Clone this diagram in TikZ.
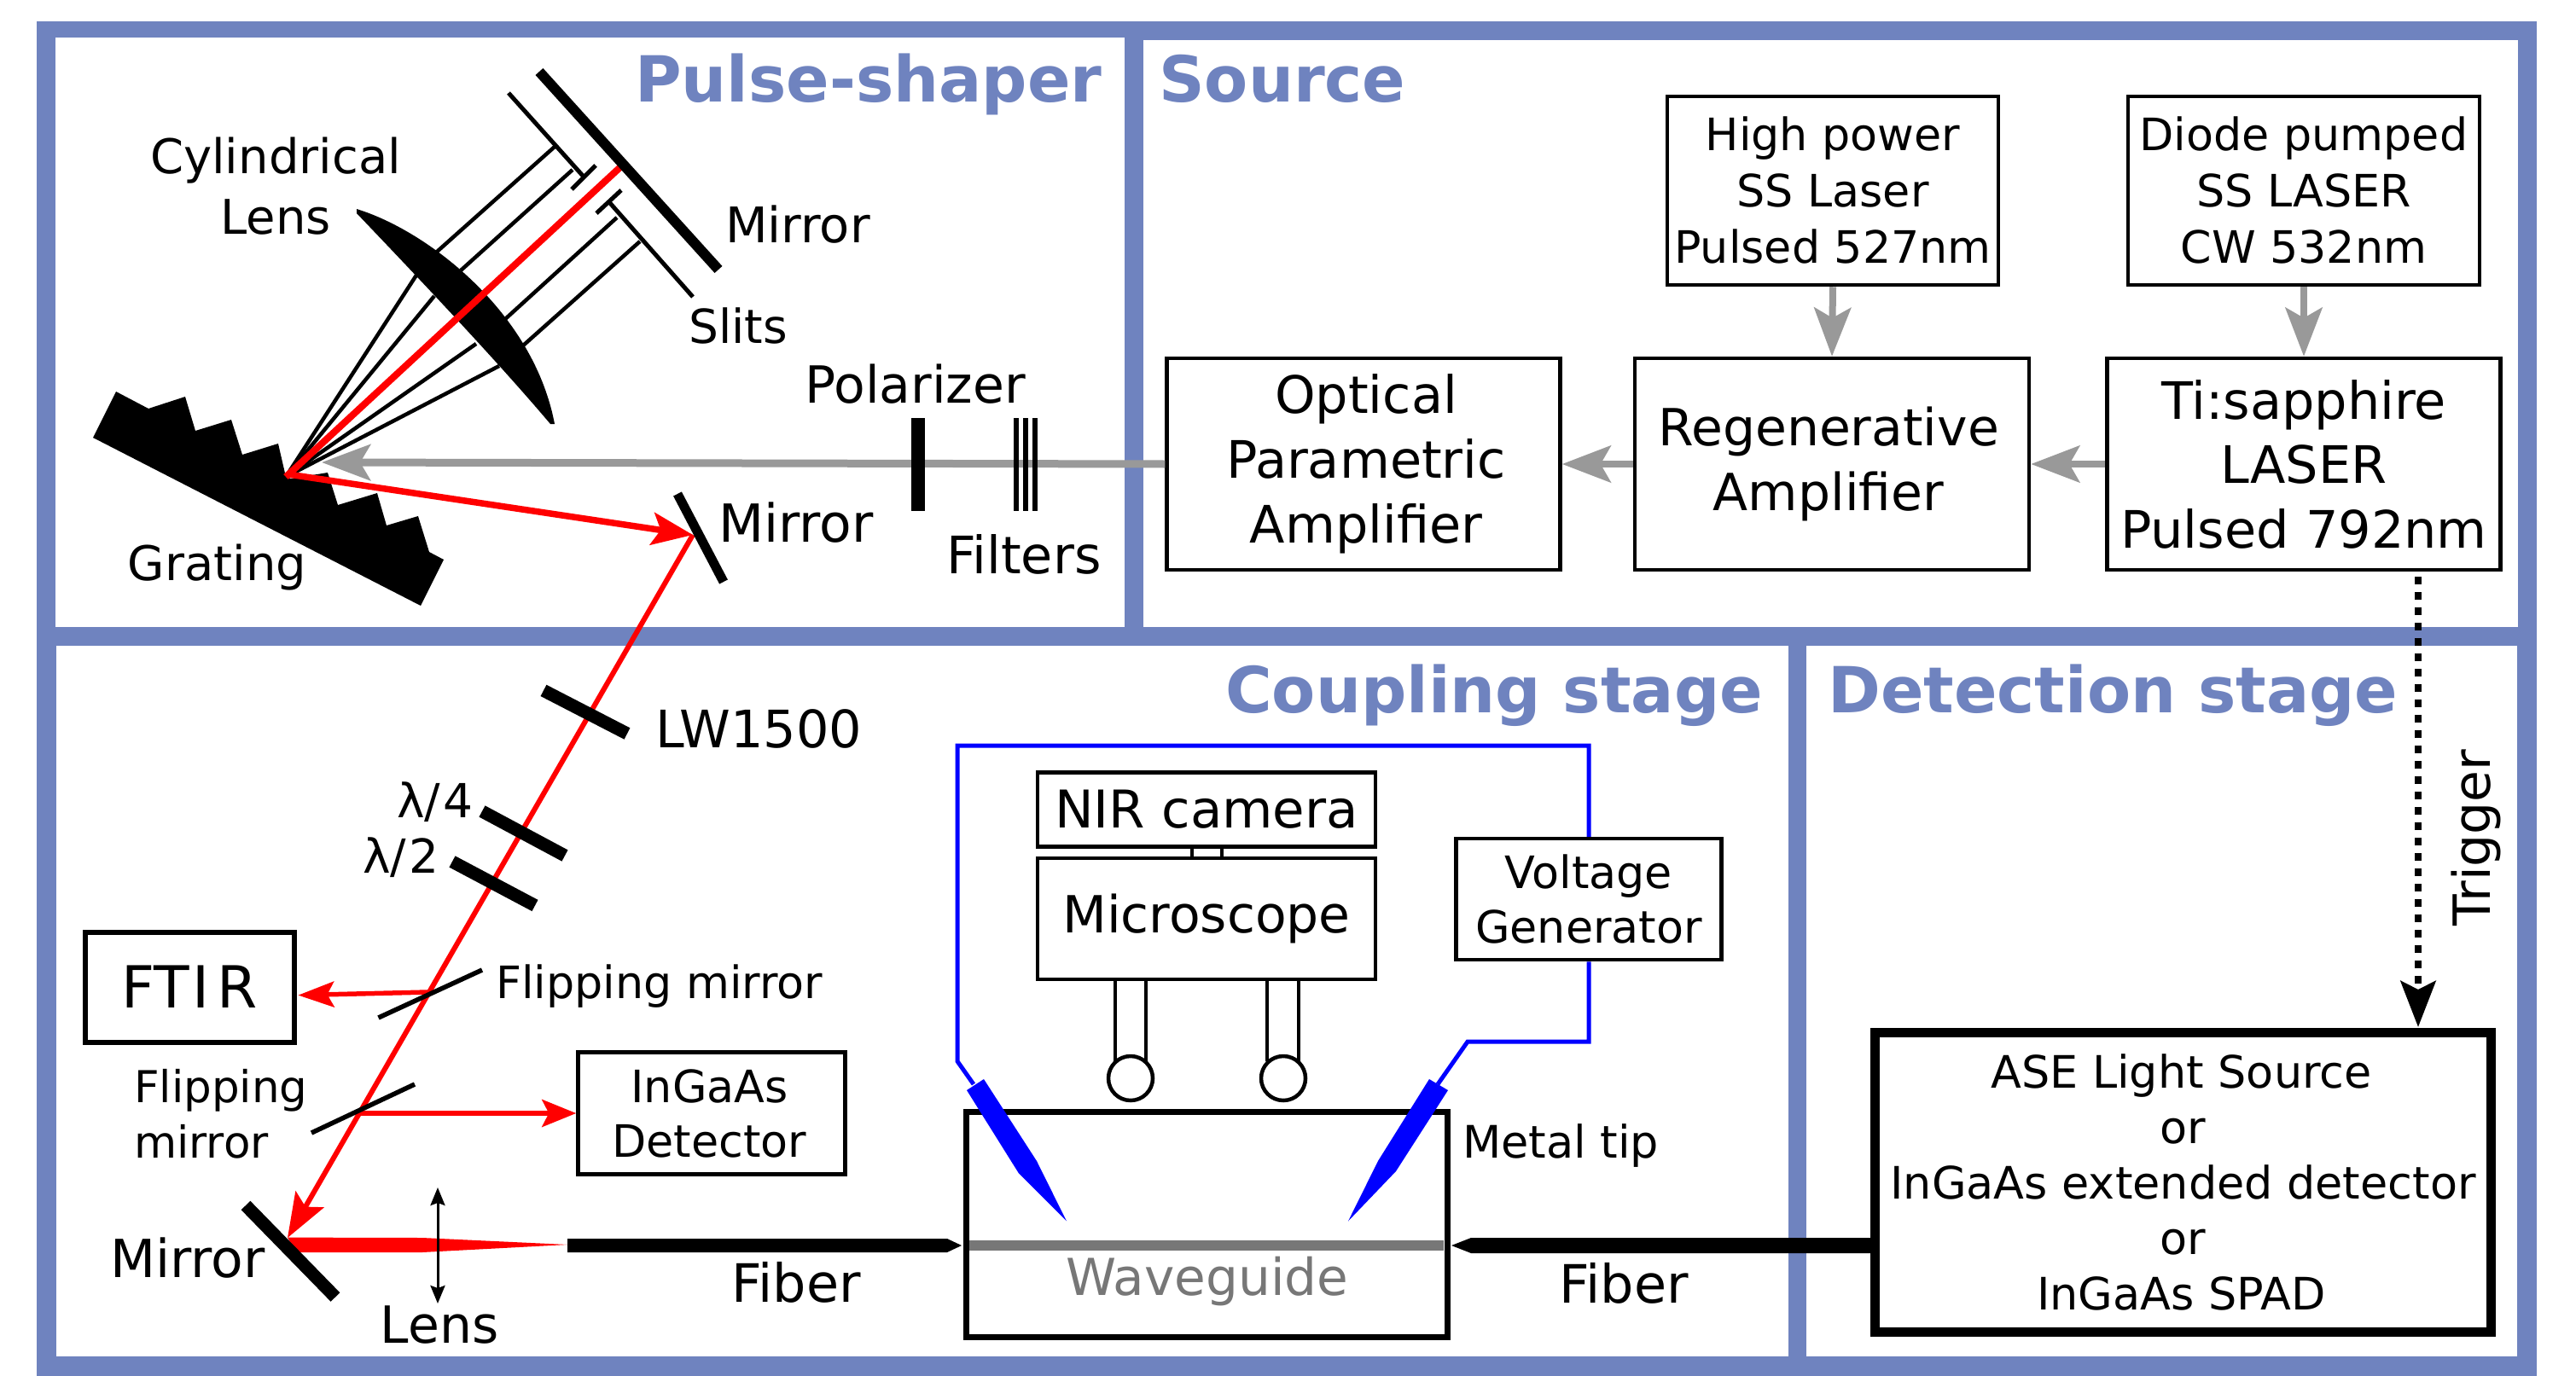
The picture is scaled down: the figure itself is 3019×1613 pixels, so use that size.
\documentclass[tikz,border=0pt]{standalone}
\usepackage{fontspec}
\setmainfont{DejaVu Sans}
\usetikzlibrary{arrows.meta,calc}
\definecolor{band}{HTML}{6F83BF}
\definecolor{beam}{HTML}{999999}
\definecolor{guide}{HTML}{777777}
\newcommand{\fsz}[2]{\fontsize{#1}{#2}\selectfont}
\tikzset{
  panel/.style={fill=white,draw=none},
  title/.style={text=band,anchor=base west,inner sep=0pt,font=\bfseries\fsz{74.5}{89}},
  lbl/.style={anchor=base,inner sep=0pt,text=black},
  bx/.style={draw=black,fill=white,line width=4.5pt,inner sep=0pt,align=center},
  grayarr/.style={draw=beam,line width=8pt,-{Stealth[length=57pt,width=43pt,inset=12pt]}},
  redline/.style={draw=red,line width=6pt},
  rayk/.style={draw=black,line width=4.5pt},
  slit/.style={draw=black,line width=5pt},
  optic/.style={draw=black,line width=15pt},
  thinm/.style={draw=black,line width=5.5pt},
  wire/.style={draw=blue,line width=5pt},
}
\begin{document}
\begin{tikzpicture}[x=1pt,y=-1pt]
\useasboundingbox (0,0) rectangle (3019,1613);
\fill[white] (0,0) rectangle (3019,1613);
% frame and panels
\fill[band] (43,25) rectangle (2973,1613);
\fill[panel] (65,44) rectangle (1318,735);
\fill[panel] (1340,47) rectangle (2951,735);
\fill[panel] (66,757) rectangle (2096,1590);
\fill[panel] (2117,757) rectangle (2950,1590);
\node[title] (tps) at (744,120) {Pulse-shaper};
\node[title] (tsrc) at (1358,120) {Source};
\node[title] (tcpl) at (1436,835) {Coupling stage};
\node[title] (tdet) at (2142,835) {Detection stage};

% source boxes
\node[bx,font=\fsz{52.3}{66},minimum width=388pt,minimum height=221pt] (high) at (2148,223.5) {High power\\SS Laser\\Pulsed 527nm};
\node[bx,font=\fsz{52.3}{66},minimum width=412pt,minimum height=221pt] (diode) at (2700,223.5) {Diode pumped\\SS LASER\\CW 532nm};
\node[bx,font=\fsz{60.5}{76},minimum width=461pt,minimum height=248pt] (opa) at (1598,544) {\hspace*{6pt}Optical\\\hspace*{6pt}Parametric\\\hspace*{6pt}Amplifier};
\node[bx,font=\fsz{60}{76},minimum width=462pt,minimum height=248pt] (regen) at (2147,544) {Regenerative\hspace*{8pt}\\Amplifier\hspace*{8pt}};
\node[bx,font=\fsz{60.5}{75.5},minimum width=461pt,minimum height=248pt] (ti) at (2700,544) {Ti:sapphire\\LASER\\Pulsed 792nm};
\draw[grayarr] (high.south) -- (regen.north);
\draw[grayarr] (diode.south) -- (ti.north);
\draw[grayarr] (regen.west) -- (opa.east);
\draw[grayarr] (ti.west) -- (regen.east);

% detection
\node[bx,line width=11pt,font=\fsz{52.4}{65},minimum width=722pt,minimum height=351pt] (ase) at (2558.5,1386) {ASE Light Source\hspace*{4pt}\\or\hspace*{4pt}\\InGaAs extended detector\hspace*{4pt}\\or\hspace*{4pt}\\InGaAs SPAD\hspace*{4pt}};
\coordinate (trigS) at (2834,676);
\coordinate (trigE) at (2834,1204);
\draw[draw=black,line width=8pt,dash pattern=on 9pt off 9pt,-{Stealth[length=54pt,width=41pt,inset=10pt]}] (trigS) -- (trigE);
\node[lbl,rotate=90,font=\fsz{60}{72}] (trig) at (2918,982) {Trigger};

% grating
\fill[black] (109,513) -- (136,459) -- (174,479) -- (217,465) -- (229,505) -- (271,492) -- (284,533) -- (326,520) -- (335,559) -- (341,561) -- (384,554) -- (396,592) -- (442,578) -- (453,616) -- (490,605) -- (503,647) -- (520,656) -- (493,710) -- cycle;
\node[lbl,font=\fsz{56}{67}] (lgr) at (254.5,680) {Grating};
\coordinate (focus) at (335,559);

% rays
\coordinate (r1a) at (489,321); \coordinate (r1b) at (511,296); \coordinate (r1c) at (650,172);
\coordinate (r2a) at (509,347); \coordinate (r2b) at (540,317); \coordinate (r2c) at (671,199);
\coordinate (r3a) at (558,403); \coordinate (r3b) at (591,375); \coordinate (r3c) at (723,255);
\coordinate (r4a) at (585,429); \coordinate (r4b) at (612,406); \coordinate (r4c) at (750,283);
\draw[rayk] (focus) -- (r1a) (r1b) -- (r1c);
\draw[rayk] (focus) -- (r2a) (r2b) -- (r2c);
\draw[rayk] (focus) -- (r3a) (r3b) -- (r3c);
\draw[rayk] (focus) -- (r4a) (r4b) -- (r4c);
% cylindrical lens
\fill[black] (418,245) .. controls (500,270) and (625,365) .. (650,497) -- (645,497) .. controls (580,420) and (480,315) .. (418,250) -- cycle;
\coordinate (mtop) at (728,195);
\draw[draw=red,line width=8pt] (focus) -- (mtop);
\node[lbl,font=\fsz{56}{70.5},align=center,anchor=center] (lcyl) at (323,218) {Cylindrical\\Lens};
% mirror and slits
\draw[draw=black,line width=12pt] (632,84) -- (842,316);
\node[lbl,font=\fsz{57.5}{69},anchor=base west] (lm1) at (850,285) {Mirror};
\draw[slit] (596,109) -- (683,206) (698,194) -- (670,222);
\draw[slit] (714,237) -- (812,348) (728,223) -- (699,250);
\node[lbl,font=\fsz{55}{66},anchor=base west] (lsl) at (807,402) {Slits};

% main gray beam
\coordinate (beamtip) at (377,542);
\draw[draw=beam,line width=9pt,-{Stealth[length=57pt,width=42pt,inset=12pt]}] (opa.west) -- (beamtip);
\draw[draw=black,line width=16pt] (1076,490) -- (1076,599);
\draw[draw=black,line width=6pt] (1191,490) -- (1191,599) (1202,490) -- (1202,599) (1213,490) -- (1213,599);
\node[lbl,font=\fsz{60}{72},anchor=base west] (lpol) at (943,472) {Polarizer};
\node[lbl,font=\fsz{60.5}{72},anchor=base west] (lfil) at (1109,672.5) {Filters};

% second mirror and red path
\coordinate (m2) at (812,627);
\coordinate (m3) at (337,1451);
\draw[draw=red,line width=7.5pt,-{Stealth[length=48pt,width=38pt,inset=10pt]}] (338,556) -- (m2);
\draw[redline,-{Stealth[length=52pt,width=38pt,inset=10pt]}] (m2) -- (m3);
\draw[draw=black,line width=11pt] (794,579) -- (848,682);
\node[lbl,font=\fsz{61.5}{74},anchor=base west] (lm2) at (842,635) {Mirror};

\draw[optic] (637,809.4) -- (735,860);
\node[lbl,font=\fsz{60.5}{72},anchor=base west] (llw) at (768,876) {LW1500};
\draw[optic] (565,951) -- (662,1003);
\node[lbl,font=\fsz{55}{66},anchor=base west] (lq4) at (465,958) {λ/\kern3pt 4};
\draw[optic] (530,1010) -- (627,1061.5);
\node[lbl,font=\fsz{55}{66},anchor=base west] (lq2) at (425,1023.5) {λ/\kern3pt 2};

% FTIR
\node[bx,line width=6pt,font=\fsz{68}{80},minimum width=245pt,minimum height=129pt] (ftir) at (222,1157) {FT\kern3pt I\kern9pt R};
\coordinate (fm1) at (502,1163);
\coordinate (ftirpt) at (349.5,1166.6);
\draw[draw=red,line width=5.5pt,-{Stealth[length=42pt,width=30pt,inset=8pt]}] (fm1) -- (ftirpt);
\draw[thinm] (443.5,1193) -- (565,1137);
\node[lbl,font=\fsz{52.3}{62},anchor=base west] (lfm1) at (581,1170) {Flipping mirror};

% InGaAs
\node[bx,font=\fsz{52.3}{64},minimum width=313pt,minimum height=143pt] (ing) at (834,1305) {InGaAs\hspace*{5pt}\\Detector\hspace*{5pt}};
\coordinate (fm2) at (421,1305);
\draw[draw=red,line width=5.5pt,-{Stealth[length=40pt,width=32pt,inset=8pt]}] (fm2) -- (ing.west);
\draw[thinm] (365,1328) -- (486,1271);
\node[lbl,font=\fsz{51.5}{65},align=left,anchor=west] (lfm2) at (157,1306) {Flipping\\mirror};

% bottom mirror, cone, lens
\fill[red] (337,1450.6) -- (495,1451) -- (665,1459) -- (495,1468) -- (347,1468) -- cycle;
\draw[optic] (288,1413) -- (393,1520.5);
\node[lbl,font=\fsz{61.5}{74},anchor=base west] (lm3) at (129,1497) {Mirror};
\coordinate (lensT) at (513,1392);
\coordinate (lensB) at (513,1528);
\draw[draw=black,line width=3pt,{Stealth[length=21pt,width=17pt,inset=3pt]}-{Stealth[length=21pt,width=17pt,inset=3pt]}] (lensT) -- (lensB);
\node[lbl,font=\fsz{60}{72}] (llens) at (515,1574) {Lens};

% coupling stage
\draw[draw=black,line width=7pt] (1132.5,1303) rectangle (1696,1567.5);
\fill[guide] (1136,1454) rectangle (1692,1466);
\node[lbl,text=guide,font=\fsz{59.7}{72}] (lwg) at (1415,1518) {Waveguide};
\fill[black] (665,1452) -- (1110,1452) -- (1127,1460) -- (1110,1468) -- (665,1468) -- cycle;
\fill[black] (1701,1460) -- (1724,1451) -- (2192,1451) -- (2192,1469) -- (1724,1469) -- cycle;
\node[lbl,font=\fsz{62}{74}] (lf1) at (933,1526) {Fiber};
\node[lbl,font=\fsz{62}{74}] (lf2) at (1903,1527) {Fiber};

\node[bx,font=\fsz{61}{73},minimum width=396pt,minimum height=87pt] (nir) at (1414,949) {NIR camera};
\node[bx,font=\fsz{60}{72},minimum width=396pt,minimum height=142pt] (micro) at (1414,1077) {Microscope};
\draw[draw=black,line width=3.5pt] (1397,993) -- (1397,1005) (1432,993) -- (1432,1005);
\draw[draw=black,line width=4.5pt] (1307,1149) -- (1307,1244) (1343,1149) -- (1343,1244);
\draw[draw=black,line width=4.5pt] (1485,1149) -- (1485,1244) (1522,1149) -- (1522,1244);
\node[draw=black,fill=white,line width=4.5pt,circle,minimum size=52pt,inner sep=0pt] (obj1) at (1325,1264) {};
\node[draw=black,fill=white,line width=4.5pt,circle,minimum size=52pt,inner sep=0pt] (obj2) at (1504,1264) {};

\node[bx,font=\fsz{52.3}{64},minimum width=311pt,minimum height=142pt] (volt) at (1862,1054) {Voltage\\Generator};
\coordinate (tipL) at (1141,1271);
\coordinate (tipR) at (1685,1271);
\draw[wire,line join=miter] (tipL) -- (1122,1244) -- (1122,874) -- (1862,874) -- (volt.north);
\draw[wire,line join=miter] (volt.south) -- (1862,1221) -- (1720,1221) -- (tipR);
\fill[blue] (1133,1278) -- (1153,1265) -- (1215,1361) -- (1250,1431.5) -- (1194,1375.5) -- cycle;
\fill[blue] (1675,1265) -- (1697,1278) -- (1636,1373) -- (1580,1431.5) -- (1615,1361) -- cycle;
\node[lbl,font=\fsz{52.5}{63},anchor=base west] (lmt) at (1714,1357) {Metal tip};
\end{tikzpicture}
\end{document}
